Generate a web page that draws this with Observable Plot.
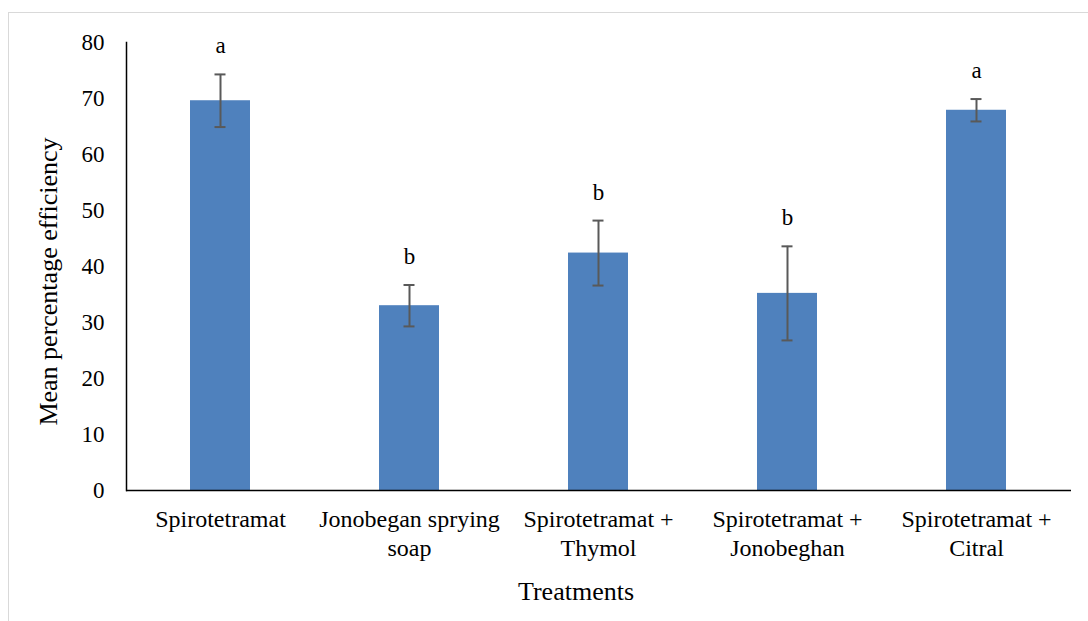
<!DOCTYPE html>
<html>
<head>
<meta charset="utf-8">
<script src="https://cdn.jsdelivr.net/npm/d3@7"></script>
<script src="https://cdn.jsdelivr.net/npm/@observablehq/plot@0.6"></script>
<style>
  html, body { margin: 0; padding: 0; background: #fff; }
  #wrap { position: relative; width: 1088px; height: 621px; overflow: hidden; }
  #border { position: absolute; left: 8px; top: 12px; width: 1200px; height: 700px; border: 1px solid #d9d9d9; box-sizing: border-box; }
  #chart { position: absolute; left: 0; top: 0; }
  #chart svg, #chart svg text { font-family: 'Liberation Serif', 'Times New Roman', serif !important; }
</style>
</head>
<body>
<div id="wrap"><div id="border"></div><div id="chart"></div></div>
<script>
const categories = ["Spirotetramat", "Jonobegan sprying soap", "Spirotetramat + Thymol", "Spirotetramat + Jonobeghan", "Spirotetramat + Citral"];
const tickLabels = ["Spirotetramat", "Jonobegan sprying\nsoap", "Spirotetramat +\nThymol", "Spirotetramat +\nJonobeghan", "Spirotetramat +\nCitral"];
const means = [69.6, 33.0, 42.4, 35.2, 67.9];
const errors = [4.7, 3.7, 5.8, 8.4, 2.0];
const letters = ["a", "b", "b", "b", "a"];
const yTicks = [0, 10, 20, 30, 40, 50, 60, 70, 80];

const data = categories.map((c, i) => ({
  cat: c, mean: means[i], lo: means[i] - errors[i], hi: means[i] + errors[i], letter: letters[i]
}));
const labelOf = new Map(categories.map((c, i) => [c, tickLabels[i]]));

const font = "'Liberation Serif', 'Times New Roman', serif";

const chart = Plot.plot({
  width: 1088,
  height: 621,
  marginLeft: 126,
  marginRight: 17,
  marginTop: 42,
  marginBottom: 131,
  style: { fontFamily: font, fontSize: "23px", color: "#000", background: "transparent" },
  x: { domain: categories, paddingInner: 0.68, paddingOuter: 0.34, label: null },
  y: { domain: [0, 80], label: null },
  marks: [
    Plot.barY(data, { x: "cat", y: "mean", fill: "#4F81BD" }),
    Plot.ruleX(data, { x: "cat", y1: "lo", y2: "hi", stroke: "#595959", strokeWidth: 2 }),
    Plot.tickY(data, { x: "cat", y: "lo", stroke: "#595959", strokeWidth: 2, insetLeft: 24.5, insetRight: 24.5 }),
    Plot.tickY(data, { x: "cat", y: "hi", stroke: "#595959", strokeWidth: 2, insetLeft: 24.5, insetRight: 24.5 }),
    Plot.text(data, { x: "cat", y: "hi", text: "letter", dy: -21, lineAnchor: "bottom", fontSize: 23, fill: "#000", fontFamily: font }),
    Plot.ruleY([0], { stroke: "#000", strokeWidth: 1.5 }),
    Plot.frame({ anchor: "left", stroke: "#000", strokeWidth: 1.5 }),
    Plot.axisY({ ticks: yTicks, tickSize: 0, tickPadding: 22, label: null, fontSize: 23, fontFamily: font }),
    Plot.axisX({ tickSize: 0, tickPadding: 17, label: null, tickFormat: (d) => labelOf.get(d), lineHeight: 1.17, fontSize: 24, fontFamily: font }),
    Plot.text(["Treatments"], { frameAnchor: "bottom", dx: -23, dy: 109, fontSize: 26, fill: "#000", fontFamily: font }),
    Plot.text(["Mean percentage efficiency"], { frameAnchor: "left", textAnchor: "middle", dx: -78, dy: 15, rotate: -90, fontSize: 26, fill: "#000", fontFamily: font })
  ]
});
document.getElementById("chart").appendChild(chart);
</script>
</body>
</html>
